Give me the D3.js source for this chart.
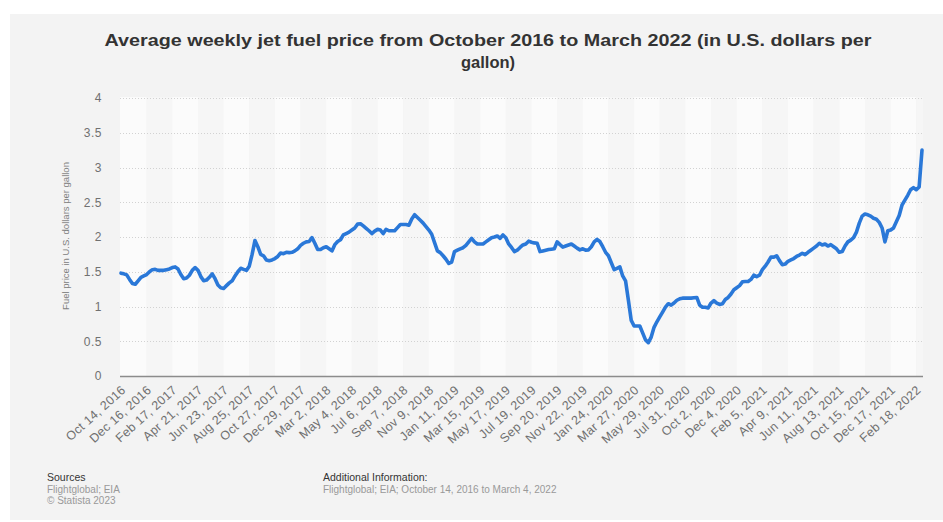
<!DOCTYPE html>
<html>
<head>
<meta charset="utf-8">
<script src="https://cdn.jsdelivr.net/npm/d3@7"></script>
<style>
  body { margin: 0; background: #ffffff; }
  svg { display: block; font-family: "Liberation Sans", Arial, sans-serif; }
</style>
</head>
<body>
<svg id="chart" width="943" height="522"></svg>
<script>
// ---------------- DATA ----------------
const startDate = "2016-10-14";   // first weekly observation
const weekStepDays = 7;

// Average weekly jet fuel price (U.S. dollars per gallon), Oct 14, 2016 - Mar 4, 2022
const prices = [
  1.48, 1.47, 1.455, 1.39, 1.33, 1.32, 1.37, 1.42, 1.44, 1.46,
  1.50, 1.53, 1.535, 1.52, 1.52, 1.52, 1.53, 1.54, 1.56, 1.57,
  1.54, 1.46, 1.40, 1.41, 1.45, 1.52, 1.56, 1.52, 1.43, 1.37,
  1.38, 1.42, 1.47, 1.40, 1.31, 1.27, 1.26, 1.30, 1.34, 1.37,
  1.44, 1.50, 1.55, 1.535, 1.52, 1.58, 1.75, 1.95, 1.86, 1.75,
  1.73, 1.67, 1.66, 1.67, 1.69, 1.72, 1.77, 1.76, 1.78, 1.775,
  1.78, 1.80, 1.83, 1.88, 1.91, 1.93, 1.935, 1.99, 1.91, 1.82,
  1.82, 1.846, 1.86, 1.83, 1.80, 1.89, 1.935, 1.96, 2.03, 2.05,
  2.07, 2.10, 2.13, 2.185, 2.19, 2.16, 2.125, 2.09, 2.05, 2.085,
  2.11, 2.10, 2.05, 2.11, 2.09, 2.09, 2.09, 2.135, 2.18, 2.18,
  2.18, 2.17, 2.26, 2.32, 2.28, 2.24, 2.20, 2.15, 2.10, 2.04,
  1.92, 1.80, 1.775, 1.73, 1.68, 1.62, 1.64, 1.79, 1.81, 1.83,
  1.846, 1.88, 1.93, 1.98, 1.93, 1.90, 1.90, 1.90, 1.93, 1.96,
  1.99, 2.00, 2.015, 1.98, 2.03, 1.99, 1.90, 1.85, 1.79, 1.81,
  1.85, 1.885, 1.90, 1.94, 1.925, 1.915, 1.91, 1.79, 1.80, 1.81,
  1.82, 1.825, 1.83, 1.93, 1.89, 1.855, 1.87, 1.885, 1.90, 1.87,
  1.84, 1.815, 1.83, 1.81, 1.815, 1.86, 1.93, 1.965, 1.935, 1.86,
  1.78, 1.73, 1.63, 1.53, 1.55, 1.57, 1.44, 1.37, 1.09, 0.80,
  0.72, 0.72, 0.72, 0.62, 0.52, 0.48, 0.56, 0.70, 0.78, 0.85,
  0.92, 0.99, 1.04, 1.02, 1.05, 1.09, 1.11, 1.12, 1.12, 1.12,
  1.12, 1.125, 1.13, 1.02, 0.99, 0.99, 0.98, 1.05, 1.085, 1.05,
  1.03, 1.04, 1.10, 1.13, 1.18, 1.24, 1.27, 1.30, 1.355, 1.36,
  1.36, 1.39, 1.45, 1.43, 1.45, 1.53, 1.58, 1.64, 1.71, 1.71,
  1.73, 1.66, 1.60, 1.61, 1.65, 1.67, 1.69, 1.72, 1.74, 1.765,
  1.745, 1.78, 1.81, 1.84, 1.87, 1.91, 1.885, 1.90, 1.87, 1.89,
  1.86, 1.83, 1.78, 1.79, 1.87, 1.93, 1.955, 1.99, 2.07, 2.20,
  2.30, 2.33, 2.32, 2.30, 2.27, 2.255, 2.21, 2.13, 1.93, 2.09,
  2.10, 2.13, 2.22, 2.31, 2.46, 2.53, 2.60, 2.68, 2.71, 2.68,
  2.72, 3.25
];

const tickEvery = 9; // one x label every 9 weeks
const xTickLabels = [
  "Oct 14, 2016", "Dec 16, 2016", "Feb 17, 2017", "Apr 21, 2017", "Jun 23, 2017",
  "Aug 25, 2017", "Oct 27, 2017", "Dec 29, 2017", "Mar 2, 2018", "May 4, 2018",
  "Jul 6, 2018", "Sep 7, 2018", "Nov 9, 2018", "Jan 11, 2019", "Mar 15, 2019",
  "May 17, 2019", "Jul 19, 2019", "Sep 20, 2019", "Nov 22, 2019", "Jan 24, 2020",
  "Mar 27, 2020", "May 29, 2020", "Jul 31, 2020", "Oct 2, 2020", "Dec 4, 2020",
  "Feb 5, 2021", "Apr 9, 2021", "Jun 11, 2021", "Aug 13, 2021", "Oct 15, 2021",
  "Dec 17, 2021", "Feb 18, 2022"
];

const yTicks = [0, 0.5, 1, 1.5, 2, 2.5, 3, 3.5, 4];
const yTickLabels = ["0", "0.5", "1", "1.5", "2", "2.5", "3", "3.5", "4"];

const titleLines = [
  "Average weekly jet fuel price from October 2016 to March 2022 (in U.S. dollars per",
  "gallon)"
];
const yAxisTitle = "Fuel price in U.S. dollars per gallon";
const sourcesHead = "Sources";
const sourcesLines = ["Flightglobal; EIA", "\u00A9 Statista 2023"];
const infoHead = "Additional Information:";
const infoLines = ["Flightglobal; EIA; October 14, 2016 to March 4, 2022"];

// ---------------- BUILD ----------------
const parse = d3.timeParse("%Y-%m-%d");
const fmt = d3.timeFormat("%Y-%m-%d");
const categories = prices.map((_, i) => fmt(d3.timeDay.offset(parse(startDate), i * weekStepDays)));
const data = categories.map((c, i) => ({ c, v: prices[i] }));

const svg = d3.select("#chart");
const W = 943, H = 522;
const plot = { left: 120, right: 923, top: 97, bottom: 376 };

// background panel
svg.append("rect").attr("x", 0).attr("y", 0).attr("width", W).attr("height", H).attr("fill", "#ffffff");
svg.append("rect").attr("x", 10).attr("y", 14).attr("width", 933).attr("height", 506).attr("fill", "#f3f3f3");

const x = d3.scalePoint().domain(categories).range([121, 922]);
const y = d3.scaleLinear().domain([0, 4]).range([plot.bottom, plot.top + 1]);

// alternating bands between label ticks
const tickCats = categories.filter((_, i) => i % tickEvery === 0);
const bandEdges = tickCats.map(c => x(c));
bandEdges[0] = plot.left;
bandEdges.push(plot.right);
for (let k = 0; k < bandEdges.length - 1; k++) {
  svg.append("rect")
    .attr("x", bandEdges[k]).attr("y", plot.top)
    .attr("width", bandEdges[k + 1] - bandEdges[k])
    .attr("height", plot.bottom - plot.top)
    .attr("fill", k % 2 === 0 ? "#fbfbfb" : "#f6f6f6");
}

// horizontal dotted gridlines
svg.append("g").selectAll("line").data(yTicks.filter(t => t > 0)).join("line")
  .attr("x1", plot.left).attr("x2", plot.right)
  .attr("y1", d => Math.round(y(d)) + 0.5).attr("y2", d => Math.round(y(d)) + 0.5)
  .attr("stroke", "#d2d2d2").attr("stroke-width", 1).attr("stroke-dasharray", "1,2");

// y axis labels
const yAxis = d3.axisLeft(y).tickValues(yTicks)
  .tickFormat((d, i) => yTickLabels[i]).tickSize(0).tickPadding(18);
const gy = svg.append("g").attr("transform", `translate(${plot.left},0)`).call(yAxis);
gy.select(".domain").remove();
gy.selectAll("text").attr("fill", "#707070").attr("font-size", 12)
  .attr("font-family", "'Liberation Sans', Arial, sans-serif")
  .attr("letter-spacing", "0.5px");

// x axis
const xAxis = d3.axisBottom(x).tickValues(tickCats)
  .tickFormat((d, i) => xTickLabels[i]).tickSize(0).tickPadding(0);
const gx = svg.append("g").attr("transform", `translate(0,${plot.bottom})`).call(xAxis);
gx.select(".domain").remove();
gx.selectAll("text")
  .attr("fill", "#707070").attr("font-size", 12.5)
  .attr("font-family", "'Liberation Sans', Arial, sans-serif")
  .attr("letter-spacing", "0.3px")
  .attr("text-anchor", "end")
  .attr("dy", "0.35em").attr("y", 0)
  .attr("transform", "translate(2,12) rotate(-42)");

// axis baseline
svg.append("line").attr("x1", plot.left).attr("x2", plot.right)
  .attr("y1", plot.bottom + 0.5).attr("y2", plot.bottom + 0.5)
  .attr("stroke", "#8c8c8c").attr("stroke-width", 1.5);

// line
const line = d3.line().x(d => x(d.c)).y(d => y(d.v));
svg.append("path").datum(data)
  .attr("d", line).attr("fill", "none")
  .attr("stroke", "#2a78d8").attr("stroke-width", 3.6)
  .attr("stroke-linejoin", "round").attr("stroke-linecap", "round");

// y axis title
svg.append("text")
  .attr("transform", "translate(69,236) rotate(-90)")
  .attr("text-anchor", "middle")
  .attr("fill", "#808080").attr("font-size", 9.5)
  .text(yAxisTitle);

// title
const tg = svg.append("g").attr("font-weight", "bold").attr("fill", "#333").attr("text-anchor", "middle");
tg.append("text").attr("x", 488).attr("y", 46).attr("font-size", 16.5)
  .attr("textLength", 767).attr("lengthAdjust", "spacingAndGlyphs").text(titleLines[0]);
tg.append("text").attr("x", 488).attr("y", 68).attr("font-size", 16.5).text(titleLines[1]);

// footer
svg.append("text").attr("x", 47).attr("y", 481).attr("font-size", 10.5).attr("fill", "#333").text(sourcesHead);
sourcesLines.forEach((t, i) => svg.append("text").attr("x", 47).attr("y", 493 + i * 11)
  .attr("font-size", 10).attr("fill", "#999").text(t));
svg.append("text").attr("x", 323).attr("y", 481).attr("font-size", 10.5).attr("fill", "#333").text(infoHead);
infoLines.forEach((t, i) => svg.append("text").attr("x", 323).attr("y", 493 + i * 11)
  .attr("font-size", 10).attr("fill", "#999").text(t));
</script>
</body>
</html>
